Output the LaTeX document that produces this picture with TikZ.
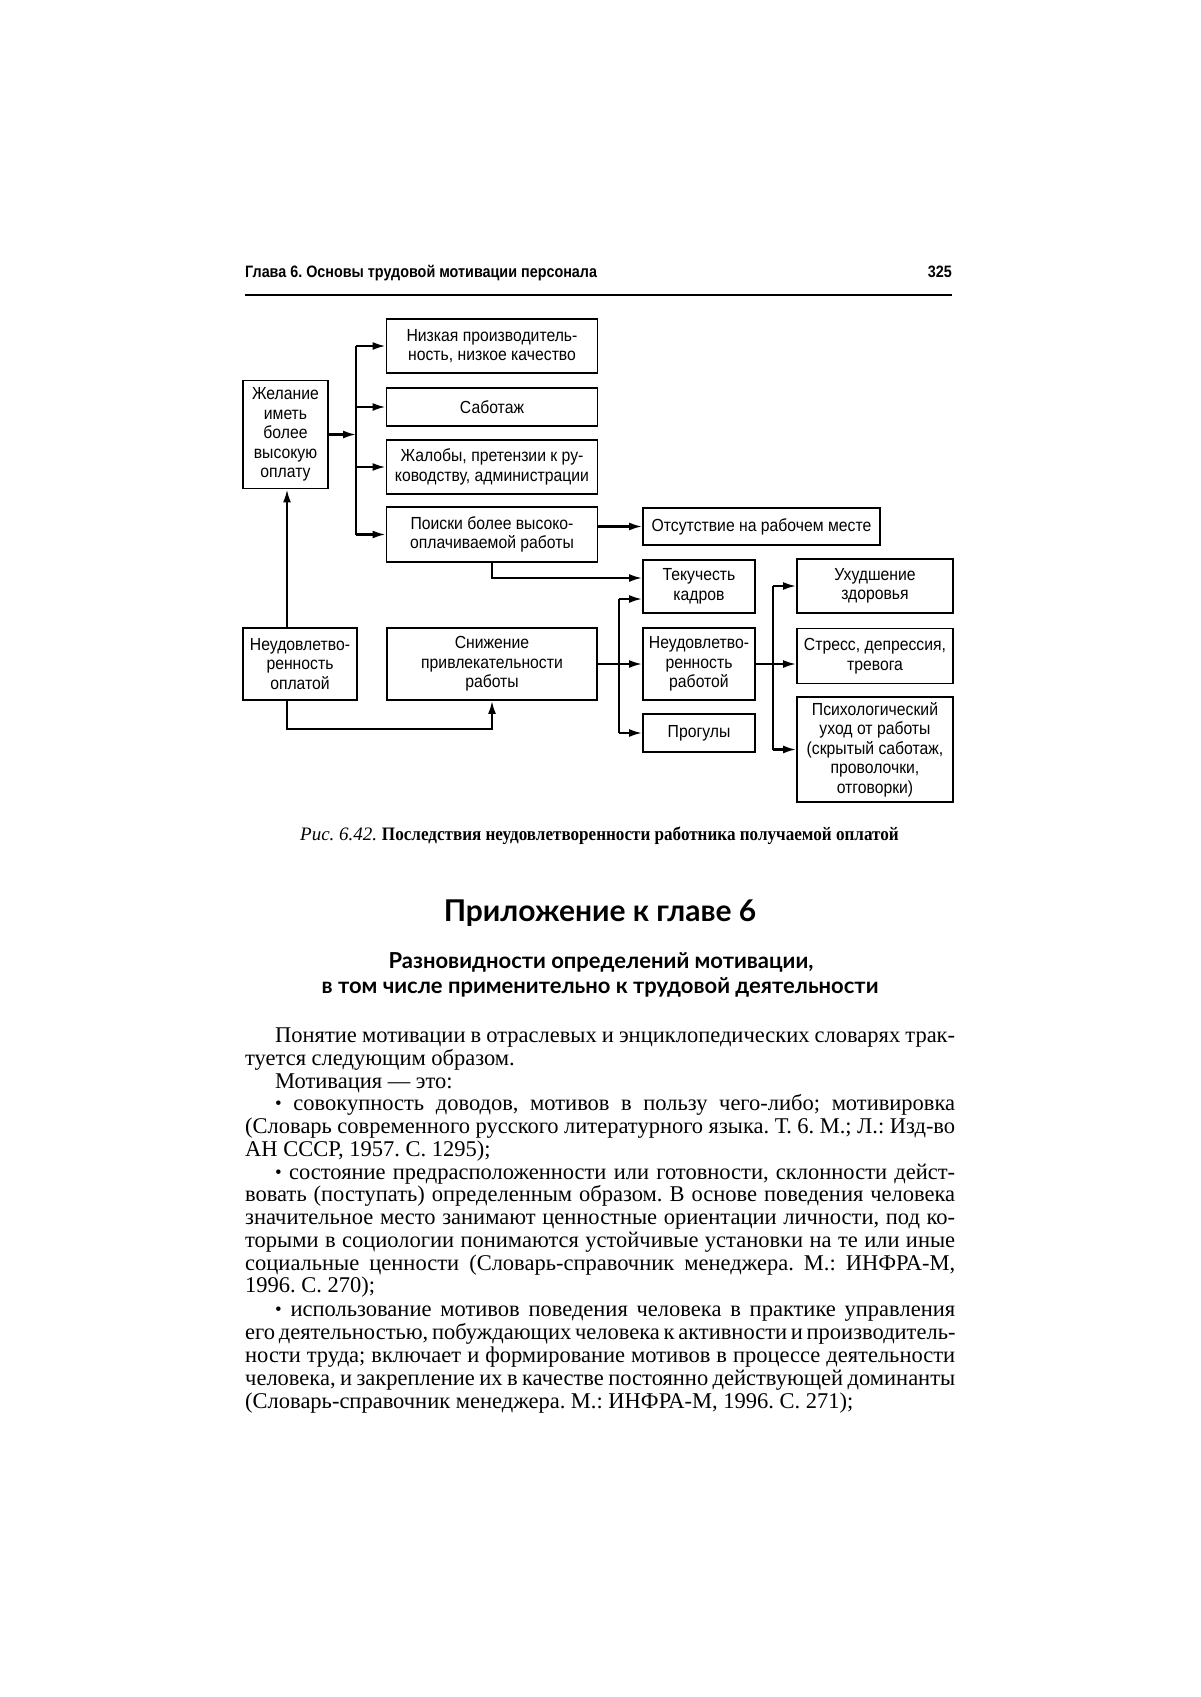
\documentclass[tikz,border=0pt]{standalone}
\usepackage{fontspec}
\setmainfont{Liberation Serif}
\newfontfamily\diag[FakeStretch=0.9]{Liberation Sans}
\newfontfamily\hdr[FakeStretch=0.87]{Liberation Sans}
\newfontfamily\capb[FakeStretch=0.9]{Liberation Serif}
\newfontfamily\headfont{Lato}
\usetikzlibrary{arrows.meta}
\frenchspacing
\newcommand\J[2]{\makebox[#1][s]{#2}}
\newcommand\bul{{\fontsize{19}{19}\selectfont\raisebox{1pt}{•}}}
\tikzset{
  box/.style={draw, line width=1.9pt, inner sep=0pt, align=center,
    font=\diag\fontsize{17.5}{19.5}\selectfont},
  conn/.style={line width=2.1pt},
  arr/.style={conn, -{Latex[length=13pt,width=8pt]}},
  bl/.style={anchor=base west, inner sep=0pt, font=\fontsize{22.5}{23}\selectfont},
}
\begin{document}
\begin{tikzpicture}[x=1pt,y=-1pt]
\useasboundingbox (0,0) rectangle (1200,1697);
\fill[white] (0,0) rectangle (1200,1697);

% header
\node[anchor=base west, inner sep=0pt, font=\hdr\bfseries\fontsize{16.5}{18}\selectfont] (hd) at (245,277) {Глава 6. Основы трудовой мотивации персонала};
\node[anchor=base east, inner sep=0pt, font=\hdr\bfseries\fontsize{16.5}{18}\selectfont] (pg) at (952,277) {325};
\coordinate (r1) at (245,295);
\coordinate (r2) at (952,295);
\draw[line width=1.8pt] (r1) -- (r2);

% diagram boxes
\node[box, minimum width=85pt, minimum height=108pt] (A) at (285.5,434.5) {Желание\\иметь\\более\\высокую\\оплату};
\node[box, minimum width=211pt, minimum height=54pt] (B1) at (492,346) {Низкая производитель-\\ность, низкое качество};
\node[box, minimum width=211pt, minimum height=38pt] (B2) at (492,407) {Саботаж};
\node[box, minimum width=211pt, minimum height=54pt] (B3) at (492,467) {Жалобы, претензии к ру-\\ководству, администрации};
\node[box, minimum width=211pt, minimum height=55pt] (B4) at (492,534.5) {Поиски более высоко-\\оплачиваемой работы};
\node[box, minimum width=237pt, minimum height=37pt] (C1) at (761.5,526.5) {Отсутствие на рабочем месте};
\node[box, minimum width=112pt, minimum height=53pt] (C2) at (699,586.5) {Текучесть\\кадров};
\node[box, minimum width=112pt, minimum height=72pt] (C3) at (699,664) {Неудовлетво-\\ренность\\работой};
\node[box, minimum width=112pt, minimum height=38pt] (C4) at (699,733) {Прогулы};
\node[box, minimum width=114pt, minimum height=72pt] (D1) at (300,664) {Неудовлетво-\\ренность\\оплатой};
\node[box, minimum width=210pt, minimum height=72pt] (D2) at (492,664) {Снижение\\привлекательности\\работы};
\node[box, minimum width=156pt, minimum height=54pt] (E1) at (875,586) {Ухудшение\\здоровья};
\node[box, minimum width=156pt, minimum height=55pt] (E2) at (875,656) {Стресс, депрессия,\\тревога};
\node[box, minimum width=156pt, minimum height=105pt] (E3) at (875,749.5) {Психологический\\уход от работы\\(скрытый саботаж,\\проволочки,\\отговорки)};

% connectors
\coordinate (j1) at (356,0);
\coordinate (j2) at (619,0);
\coordinate (j3) at (773,0);
\coordinate (c2up) at ([yshift=8.5pt]C2.west);
\coordinate (c2lo) at ([yshift=-12.5pt]C2.west);
\coordinate (ax) at ([xshift=1.5pt]A.south);
\draw[arr] (A.east) -- (A.east -| j1);
\draw[conn] (j1 |- B1) -- (j1 |- B4);
\foreach \b in {B1,B2,B3,B4} \draw[arr] (j1 |- \b) -- (\b.west);
\draw[arr] (B4.east |- C1) -- (C1.west);
\draw[arr] (B4.south) |- (c2up);
\draw[conn] (j2 |- c2lo) -- (j2 |- C4);
\draw[arr] (j2 |- c2lo) -- (c2lo);
\draw[arr] (j2 |- C4) -- (C4.west);
\draw[arr] (D2.east) -- (D2.east -| C3.west);
\draw[conn] (j3 |- E1) -- (j3 |- E3);
\draw[arr] (j3 |- E1) -- (E1.west);
\draw[arr] (j3 |- E3) -- (E3.west);
\draw[arr] (C3.east) -- (C3.east -| E2.west);
\draw[arr] (ax |- D1.north) -- (ax);
\draw[arr] (ax |- D1.south) -- ++(0,28) -| (D2.south);

% caption
\node[anchor=base west, inner sep=0pt, font=\fontsize{19}{21}\selectfont] (cap) at (300,840) {{\itshape Рис. 6.42.} {\capb\bfseries Последствия неудовлетворенности работника получаемой оплатой}};

% headings
\node[anchor=base, inner sep=0pt, font=\headfont\bfseries\fontsize{30}{32}\selectfont] (h1) at (600,921) {Приложение к главе 6};
\node[anchor=base, inner sep=0pt, font=\headfont\bfseries\fontsize{22}{24}\selectfont] (h2) at (601,968) {Разновидности определений мотивации,};
\node[anchor=base, inner sep=0pt, font=\headfont\bfseries\fontsize{22}{24}\selectfont] (h3) at (600,993) {в том числе применительно к трудовой деятельности};

% body text
\node[bl] (l1) at (275,1042) {\J{680pt}{Понятие мотивации в отраслевых и энциклопедических словарях трак-}};
\node[bl] (l2) at (245,1065) {туется следующим образом.};
\node[bl] (l3) at (275,1088) {Мотивация — это:};
\node[bl] (l4) at (275,1110) {\J{680pt}{\bul{} совокупность доводов, мотивов в пользу чего-либо; мотивировка}};
\node[bl] (l5) at (245,1133) {\J{710pt}{(Словарь современного русского литературного языка. Т. 6. М.; Л.: Изд-во}};
\node[bl] (l6) at (245,1156) {АН СССР, 1957. С. 1295);};
\node[bl] (l7) at (275,1179) {\J{680pt}{\bul{} состояние предрасположенности или готовности, склонности дейст-}};
\node[bl] (l8) at (245,1201) {\J{710pt}{вовать (поступать) определенным образом. В основе поведения человека}};
\node[bl] (l9) at (245,1224) {\J{710pt}{значительное место занимают ценностные ориентации личности, под ко-}};
\node[bl] (l10) at (245,1247) {\J{710pt}{торыми в социологии понимаются устойчивые установки на те или иные}};
\node[bl] (l11) at (245,1270) {\J{710pt}{социальные ценности (Словарь-справочник менеджера. М.: ИНФРА-М,}};
\node[bl] (l12) at (245,1292) {1996. С. 270);};
\node[bl] (l13) at (275,1316) {\J{680pt}{\bul{} использование мотивов поведения человека в практике управления}};
\node[bl] (l14) at (245,1339) {\J{710pt}{его деятельностью, побуждающих человека к активности и производитель-}};
\node[bl] (l15) at (245,1362) {\J{710pt}{ности труда; включает и формирование мотивов в процессе деятельности}};
\node[bl] (l16) at (245,1385) {\J{710pt}{человека, и закрепление их в качестве постоянно действующей доминанты}};
\node[bl] (l17) at (245,1408) {(Словарь-справочник менеджера. М.: ИНФРА-М, 1996. С. 271);};
\end{tikzpicture}
\end{document}
